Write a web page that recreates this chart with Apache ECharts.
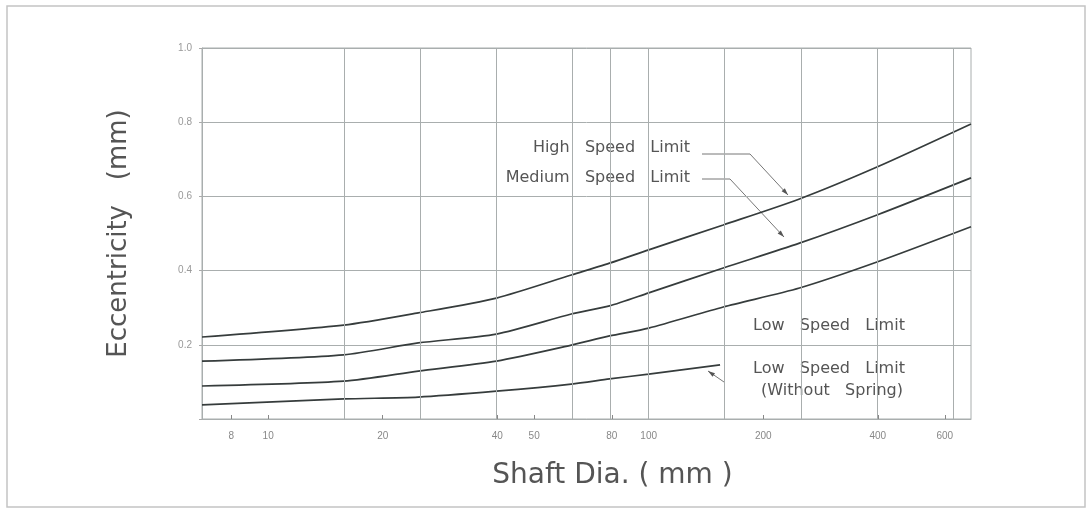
<!DOCTYPE html>
<html>
<head>
<meta charset="utf-8">
<script src="https://cdn.jsdelivr.net/npm/echarts@6/dist/echarts.min.js"></script>
<style>
  html, body { margin: 0; padding: 0; background: #fff; }
  #main { width: 1091px; height: 510px; }
</style>
</head>
<body>
<div id="main"></div>
<script>
// shaft diameter (mm) where the curves were read
var dia = [6.7, 15.8, 24.8, 39.8, 62.6, 78.9, 100, 157, 249, 398, 703];
// eccentricity (mm)
var highSpeed = [0.221, 0.253, 0.286, 0.326, 0.388, 0.42, 0.456, 0.523, 0.593, 0.679, 0.795];
var mediumSpeed = [0.156, 0.173, 0.205, 0.229, 0.283, 0.305, 0.34, 0.407, 0.474, 0.55, 0.65];
var lowSpeed = [0.089, 0.102, 0.129, 0.156, 0.199, 0.224, 0.245, 0.302, 0.353, 0.423, 0.518];
// without spring stops near 155 mm
var diaNoSpring = [6.7, 15.8, 24.8, 39.8, 62.6, 78.9, 100, 154];
var lowNoSpring = [0.038, 0.054, 0.059, 0.075, 0.094, 0.108, 0.121, 0.146];

var xLabels = [8, 10, 20, 40, 50, 80, 100, 200, 400, 600];
var gridX = [15.8, 25.1, 39.8, 63.1, 79.4, 100, 158, 251, 398, 631];

function pairs(xs, ys) {
  return ys.map(function (v, i) { return [xs[i], v]; });
}

var lineCol = '#363c3c';
var gridCol = '#a9aeae';
var font = '"DejaVu Sans", sans-serif';

function curve(name, xs, ys, extra) {
  var s = {
    name: name,
    type: 'line',
    data: pairs(xs, ys),
    smooth: 0.25,
    symbol: 'none',
    lineStyle: { color: lineCol, width: 1.7 },
    silent: true
  };
  if (extra) s.markLine = extra;
  return s;
}

// arrowhead polygon at the end of a leader
function arrow(p1, p2) {
  var dx = p2[0] - p1[0], dy = p2[1] - p1[1];
  var len = Math.sqrt(dx * dx + dy * dy);
  var ux = dx / len, uy = dy / len;
  var L = 7, W = 2.2;
  return {
    type: 'polygon',
    shape: { points: [
      p2,
      [p2[0] - ux * L - uy * W, p2[1] - uy * L + ux * W],
      [p2[0] - ux * L + uy * W, p2[1] - uy * L - ux * W]
    ] },
    style: { fill: '#555' }
  };
}

function leader(pts) {
  return [
    { type: 'polyline', shape: { points: pts }, style: { stroke: '#777', lineWidth: 1, fill: null } },
    arrow(pts[pts.length - 2], pts[pts.length - 1])
  ];
}

function label(text, x, y, align) {
  return {
    type: 'text', x: x, y: y,
    style: {
      text: text, fill: '#555', font: '16px ' + font,
      align: align, verticalAlign: 'middle'
    }
  };
}

var chart = echarts.init(document.getElementById('main'));
var option = {
  backgroundColor: '#fff',
  animation: false,
  grid: {
    left: 202, right: 120, top: 48, bottom: 91,
    show: true, borderColor: gridCol, borderWidth: 1
  },
  xAxis: {
    type: 'log',
    min: 6.7,
    max: 703,
    name: 'Shaft Dia. ( mm )',
    nameLocation: 'middle',
    nameGap: 43,
    nameTextStyle: { fontSize: 28, color: '#555', fontFamily: 'DejaVu Sans', padding: [0, 0, 0, 52] },
    axisLine: { lineStyle: { color: gridCol } },
    axisTick: { customValues: xLabels, inside: true, length: 4, lineStyle: { color: '#888' } },
    axisLabel: { customValues: xLabels, color: '#888', fontSize: 10, margin: 12 },
    splitLine: { show: false }
  },
  yAxis: {
    type: 'value',
    min: 0,
    max: 1,
    interval: 0.2,
    name: 'Eccentricity   (mm)',
    nameLocation: 'middle',
    nameGap: 70,
    nameTextStyle: { fontSize: 26, color: '#555', fontFamily: 'DejaVu Sans' },
    axisLine: { show: true, lineStyle: { color: gridCol } },
    axisTick: { show: true, length: 3, lineStyle: { color: '#aaa' } },
    axisLabel: {
      color: '#999', fontSize: 10, margin: 10,
      formatter: function (v) { return v === 0 ? '' : v.toFixed(1); }
    },
    splitLine: { show: true, lineStyle: { color: gridCol, width: 1 } }
  },
  series: [
    curve('High Speed Limit', dia, highSpeed, {
      silent: true, symbol: 'none', label: { show: false },
      lineStyle: { color: gridCol, type: 'solid', width: 1 },
      data: gridX.map(function (v) { return { xAxis: v }; })
    }),
    curve('Medium Speed Limit', dia, mediumSpeed),
    curve('Low Speed Limit', dia, lowSpeed),
    curve('Low Speed Limit (Without Spring)', diaNoSpring, lowNoSpring)
  ],
  graphic: [
    { type: 'rect', shape: { x: 7, y: 6, width: 1078, height: 501 }, style: { fill: null, stroke: '#c4c4c4', lineWidth: 1.5 } },
    label('High   Speed   Limit', 690, 148, 'right'),
    label('Medium   Speed   Limit', 690, 178, 'right'),
    label('Low   Speed   Limit', 829, 326, 'center'),
    label('Low   Speed   Limit', 829, 369, 'center'),
    label('(Without   Spring)', 832, 391, 'center')
  ].concat(
    leader([[702, 154], [750, 154], [788, 195]]),
    leader([[702, 179], [730, 179], [784, 237]]),
    leader([[724, 382], [708, 371]])
  )
};
chart.setOption(option);
</script>
</body>
</html>
